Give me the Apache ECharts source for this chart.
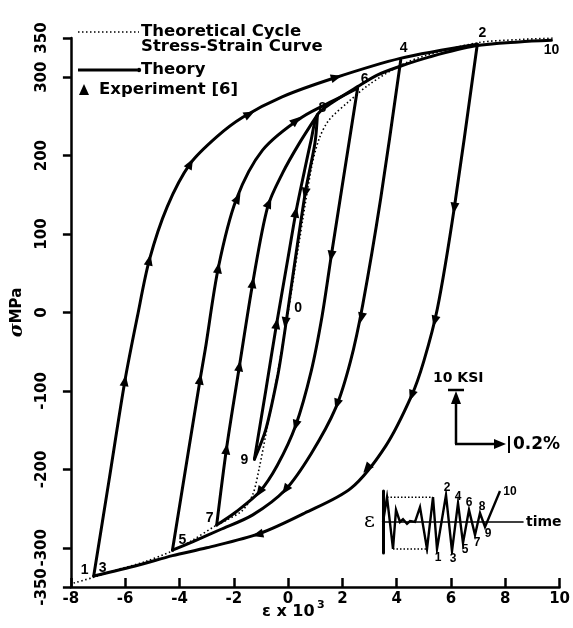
<!DOCTYPE html>
<html><head><meta charset="utf-8">
<script src="https://cdn.jsdelivr.net/npm/echarts@6/dist/echarts.min.js"></script>
<style>html,body{margin:0;padding:0;background:#fff}#c{width:573px;height:628px}</style>
</head><body><div id="c"></div>
<script>
// ---------- data (strain x 10^3, stress MPa) ----------
const xTickValues = [-8,-6,-4,-2,0,2,4,6,8,10];
const yTickValues = [-350,-300,-200,-100,0,100,200,300,350];

const cyclicCurve = [[-7.9,-345],[-7.2,-338],[-6.5,-330],[-5.3,-318],[-4.26,-304],[-3.6,-292],[-2.63,-271],[-2.28,-265],[-1.67,-252],[-1.3,-232],[-1.06,-198],[-0.8,-152],[-0.4,-80],[0,0],[0.4,88],[0.87,186],[1.15,222],[1.5,245],[2.2,268],[3.0,291],[4.13,315],[5.1,328],[7.0,344],[8.5,348],[9.8,350]];

const branch1to2 = [[-7.16,-336],[-6.6,-215],[-6.01,-87],[-5.55,-5],[-5.11,67],[-4.45,135],[-3.6,190],[-2.63,224],[-1.67,249],[-0.22,275],[1.7,299],[4.13,324],[6.97,342]];
const branch2to3 = [[6.97,342],[6.12,133],[5.5,5],[5.0,-62],[4.55,-106],[3.6,-170],[2.32,-224],[0.6,-256],[-1.06,-282],[-3.0,-300],[-4.26,-310],[-5.5,-322],[-7.16,-336]];
const branch4to5 = [[4.15,322],[3.41,145],[2.75,10],[2.3,-62],[1.75,-122],[0.85,-180],[-0.1,-226],[-1.3,-258],[-2.51,-277],[-3.5,-292],[-4.26,-303]];
const branch5to6 = [[-4.26,-303],[-3.24,-85],[-3.05,-47],[-2.57,57],[-1.91,144],[-0.94,207],[0.51,249],[1.84,273],[2.56,286]];
const branch6to7 = [[2.56,286],[1.59,72],[1.25,-5],[0.85,-75],[0.28,-144],[-0.4,-195],[-1.06,-229],[-1.91,-254],[-2.63,-271]];
const branch7to8 = [[-2.63,-271],[-2.27,-174],[-1.79,-68],[-1.3,38],[-0.75,135],[-0.2,178],[0.4,215],[1.08,252]];
const branch8to9 = [[1.08,252],[0.99,216],[0.63,152],[-0.22,-47],[-0.4,-84],[-0.82,-149],[-1.24,-187]];
const branch9to10 = [[-1.24,-187],[-0.8,-95],[-0.45,-20],[0,70],[0.3,130],[0.6,180],[0.85,220],[1.08,252],[1.6,267],[2.56,288],[3.3,303],[4.13,314],[5.22,326],[6.9,340],[8.5,345],[9.7,347]];

const experiment = [[-6.01,-87],[-5.11,67],[-3.6,190],[-1.42,253],[1.78,300],
  [-3.24,-85],[-2.57,57],[-1.85,146],[0.3,245],
  [-2.27,-174],[-1.79,-68],[-1.3,38],[-0.7,140],
  [-0.42,-14],[0.28,128],[-0.1,-13],[0.63,152],
  [1.59,72],[0.28,-144],[-1.06,-229],
  [2.7,-7],[1.8,-117],[-0.1,-226],
  [6.12,133],[5.4,-11],[4.55,-106],[2.9,-199],[-1.12,-283]];

const reversalNames = ['1','3','2','4','5','6','7','8','9','10','0'];
const reversalPoints = [[-7.16,-336],[-7.16,-336],[6.97,342],[4.15,322],[-4.26,-303],[2.56,286],[-2.63,-271],[1.08,252],[-1.24,-187],[9.7,347],[0,0]];

// strain history (inset): time units, relative strain
const historyTime = [0,4,10,13,17,20,24,27,32,37,44,50,54,63,69,75,80,86,92,97,102,117];
const historyStrain = [0,0.8,-0.87,0.39,0,0.09,-0.06,0.03,0,0.48,-0.87,0.8,-0.87,0.87,-0.94,0.61,-0.68,0.39,-0.42,0.29,-0.16,1.0];
const historyNames = ['1','2','3','4','5','6','7','8','9','10'];
const historyLabelStart = 12;

// ---------- styles ----------
const reversalOffsets = {'1':[-9,-6],'3':[9,-8],'2':[5,-11],'4':[3,-12],'5':[10,-10],'6':[7,-9],'7':[-7,-7],'8':[5,-7],'9':[-10,1],'10':[0,10],'0':[10,-4]};
const historyOffsets = [[1,9],[1,-7],[1,8],[0,-6],[2,7],[0,-7],[2,8],[2,-6],[3,7],[10,1]];
const BOLD = 'bold';
const FONT = "'DejaVu Sans', sans-serif";
const FONT2 = "'Liberation Sans', Arial, sans-serif";

const chart = echarts.init(document.getElementById('c'), null, {renderer:'canvas'});

const theoryBranches = [branch1to2, branch2to3, branch4to5, branch5to6, branch6to7, branch7to8, branch8to9, branch9to10];
const lineStyleSolid = {color:'#000', width:3, cap:'round', join:'round'};

const series = [];
series.push({name:'Theoretical Cycle Stress-Strain Curve', type:'line', data:cyclicCurve, smooth:0.3, showSymbol:false,
  lineStyle:{color:'#000', width:1.6, type:[1.5,2.5]}, z:2, silent:true});
theoryBranches.forEach(b => series.push({name:'Theory', type:'line', data:b, smooth:0.3, showSymbol:false,
  lineStyle:lineStyleSolid, z:3, silent:true}));
series.push({name:'Experiment [6]', type:'scatter', data:experiment, symbol:'triangle', symbolSize:[9,11],
  itemStyle:{color:'#000', opacity:1}, z:5, silent:true});
series.push({name:'labels', type:'scatter', symbolSize:0, silent:true, z:6, itemStyle:{color:'#000', opacity:1},
  data: reversalNames.map((n,i)=>({name:n, value:reversalPoints[i], label:{offset:reversalOffsets[n]}})),
  label:{show:true, position:'inside', formatter:p=>p.name, color:'#000', opacity:1, fontWeight:BOLD, fontSize:14, fontFamily:FONT2}});
// inset
series.push({type:'line', xAxisIndex:1, yAxisIndex:1, data:historyTime.map((t,i)=>[t,historyStrain[i]]),
  showSymbol:false, lineStyle:{color:'#000', width:2.4, join:'miter'}, silent:true});
series.push({type:'line', xAxisIndex:1, yAxisIndex:1, data:[[historyTime[1],historyStrain[1]],[historyTime[11],historyStrain[11]]],
  showSymbol:false, lineStyle:{color:'#000', width:1.4, type:[1.5,2]}, silent:true});
series.push({type:'line', xAxisIndex:1, yAxisIndex:1, data:[[historyTime[2],historyStrain[2]],[historyTime[10],historyStrain[10]]],
  showSymbol:false, lineStyle:{color:'#000', width:1.4, type:[1.5,2]}, silent:true});
series.push({type:'scatter', xAxisIndex:1, yAxisIndex:1, symbolSize:0, silent:true, itemStyle:{color:'#000', opacity:1},
  data: historyNames.map((n,i)=>({name:n, value:[historyTime[historyLabelStart+i], historyStrain[historyLabelStart+i]], label:{offset:historyOffsets[i]}})),
  label:{show:true, position:'inside', formatter:p=>p.name, color:'#000', opacity:1, fontWeight:BOLD, fontSize:12, fontFamily:FONT2}});

const option = {
  backgroundColor:'#fff',
  animation:false,
  grid:[{left:64, right:11, top:38, bottom:41},
        {left:383, top:491, width:140, height:62}],
  xAxis:[{type:'value', min:-8, max:10, interval:2,
      axisLine:{onZero:false, lineStyle:{color:'#000', width:2.5}},
      axisTick:{inside:true, length:9, lineStyle:{color:'#000', width:2.5}},
      axisLabel:{margin:5, color:'#000', fontWeight:BOLD, fontSize:15, fontFamily:FONT},
      splitLine:{show:false}},
    {type:'value', gridIndex:1, min:0, max:140, show:true,
      axisLine:{onZero:true, lineStyle:{color:'#000', width:1.6}},
      axisTick:{show:false}, axisLabel:{show:false}, splitLine:{show:false},
      name:'time', nameLocation:'end', nameGap:3,
      nameTextStyle:{color:'#000', fontWeight:BOLD, fontSize:14, fontFamily:FONT, verticalAlign:'middle'}}],
  yAxis:[{type:'value', min:-350, max:350,
      axisLine:{onZero:false, lineStyle:{color:'#000', width:2.5}},
      axisTick:{show:true, length:8, customValues:yTickValues, lineStyle:{color:'#000', width:2.5}},
      axisLabel:{customValues:yTickValues, rotate:90, margin:21, color:'#000', fontWeight:BOLD, fontSize:15, fontFamily:FONT},
      splitLine:{show:false},
      name:'{s|σ}MPa', nameLocation:'middle', nameRotate:90, nameGap:42,
      nameTextStyle:{color:'#000', fontWeight:BOLD, fontSize:15, fontFamily:FONT,
        rich:{s:{fontFamily:"'DejaVu Serif', serif", fontStyle:'italic', fontSize:19, fontWeight:BOLD, color:'#000'}}}},
    {type:'value', gridIndex:1, min:-1, max:1,
      axisLine:{onZero:true, lineStyle:{color:'#000', width:3}},
      axisTick:{show:false}, axisLabel:{show:false}, splitLine:{show:false},
      name:'ε', nameLocation:'middle', nameRotate:0, nameGap:8,
      nameTextStyle:{color:'#000', fontSize:21, fontFamily:"'DejaVu Serif', serif"}}],
  series: series,
  graphic:[
    // legend
    {type:'line', shape:{x1:78,y1:32,x2:139,y2:32}, style:{stroke:'#000', lineWidth:1.6, lineDash:[1.5,2.5]}},
    {type:'text', left:141, top:23, style:{text:'Theoretical Cycle', fill:'#000', font:"bold 16.5px 'DejaVu Sans'"}},
    {type:'text', left:141, top:38, style:{text:'Stress-Strain Curve', fill:'#000', font:"bold 16.5px 'DejaVu Sans'"}},
    {type:'line', shape:{x1:78,y1:70,x2:137,y2:70}, style:{stroke:'#000', lineWidth:3}},
    {type:'circle', shape:{cx:139,cy:70,r:2.2}, style:{fill:'#000'}},
    {type:'text', left:141, top:61, style:{text:'Theory', fill:'#000', font:"bold 16.5px 'DejaVu Sans'"}},
    {type:'polygon', shape:{points:[[84,84],[79,95],[89,95]]}, style:{fill:'#000'}},
    {type:'text', left:99, top:81, style:{text:'Experiment [6]', fill:'#000', font:"bold 16.5px 'DejaVu Sans'"}},
    // x axis title
    {type:'text', left:262, top:604, style:{text:'ε x 10', fill:'#000', font:"bold 16px 'DejaVu Sans'"}},
    {type:'text', left:317, top:600, style:{text:'3', fill:'#000', font:"bold 11px 'DejaVu Sans'"}},
    // scale bar
    {type:'text', left:433, top:371, style:{text:'10 KSI', fill:'#000', font:"bold 14px 'DejaVu Sans'"}},
    {type:'line', shape:{x1:448,y1:390,x2:464,y2:390}, style:{stroke:'#000', lineWidth:2.5}},
    {type:'line', shape:{x1:456,y1:396,x2:456,y2:444}, style:{stroke:'#000', lineWidth:2.5}},
    {type:'polygon', shape:{points:[[456,391],[451,404],[461,404]]}, style:{fill:'#000'}},
    {type:'line', shape:{x1:455,y1:444,x2:498,y2:444}, style:{stroke:'#000', lineWidth:2.5}},
    {type:'polygon', shape:{points:[[506,444],[494,439],[494,449]]}, style:{fill:'#000'}},
    {type:'line', shape:{x1:509,y1:436,x2:509,y2:453}, style:{stroke:'#000', lineWidth:2}},
    {type:'text', left:513, top:436, style:{text:'0.2%', fill:'#000', font:"bold 17px 'DejaVu Sans'"}}
  ]
};
chart.setOption(option);

// orient experiment triangles along the direction of travel on nearest theory branch
function travelAngle(pt){
  const q = chart.convertToPixel({gridIndex:0}, pt);
  let best = null, bd = Infinity;
  theoryBranches.forEach(br => {
    const px = br.map(p => chart.convertToPixel({gridIndex:0}, p));
    for (let i=0;i<px.length-1;i++){
      const a=px[i], b=px[i+1];
      const dx=b[0]-a[0], dy=b[1]-a[1];
      const L=dx*dx+dy*dy; if(!L) continue;
      let t=((q[0]-a[0])*dx+(q[1]-a[1])*dy)/L; t=Math.max(0,Math.min(1,t));
      const ex=a[0]+t*dx-q[0], ey=a[1]+t*dy-q[1]; const d=ex*ex+ey*ey;
      if (d<bd){bd=d; best=[dx,dy];}
    }
  });
  return Math.atan2(-best[1], best[0])*180/Math.PI - 90;
}
const rotations = experiment.map(travelAngle);
const expIndex = 1 + theoryBranches.length;
const upd = series.map(()=>({}));
upd[expIndex] = {symbolRotate:(v,p)=>rotations[p.dataIndex]};
chart.setOption({series:upd});
</script></body></html>
